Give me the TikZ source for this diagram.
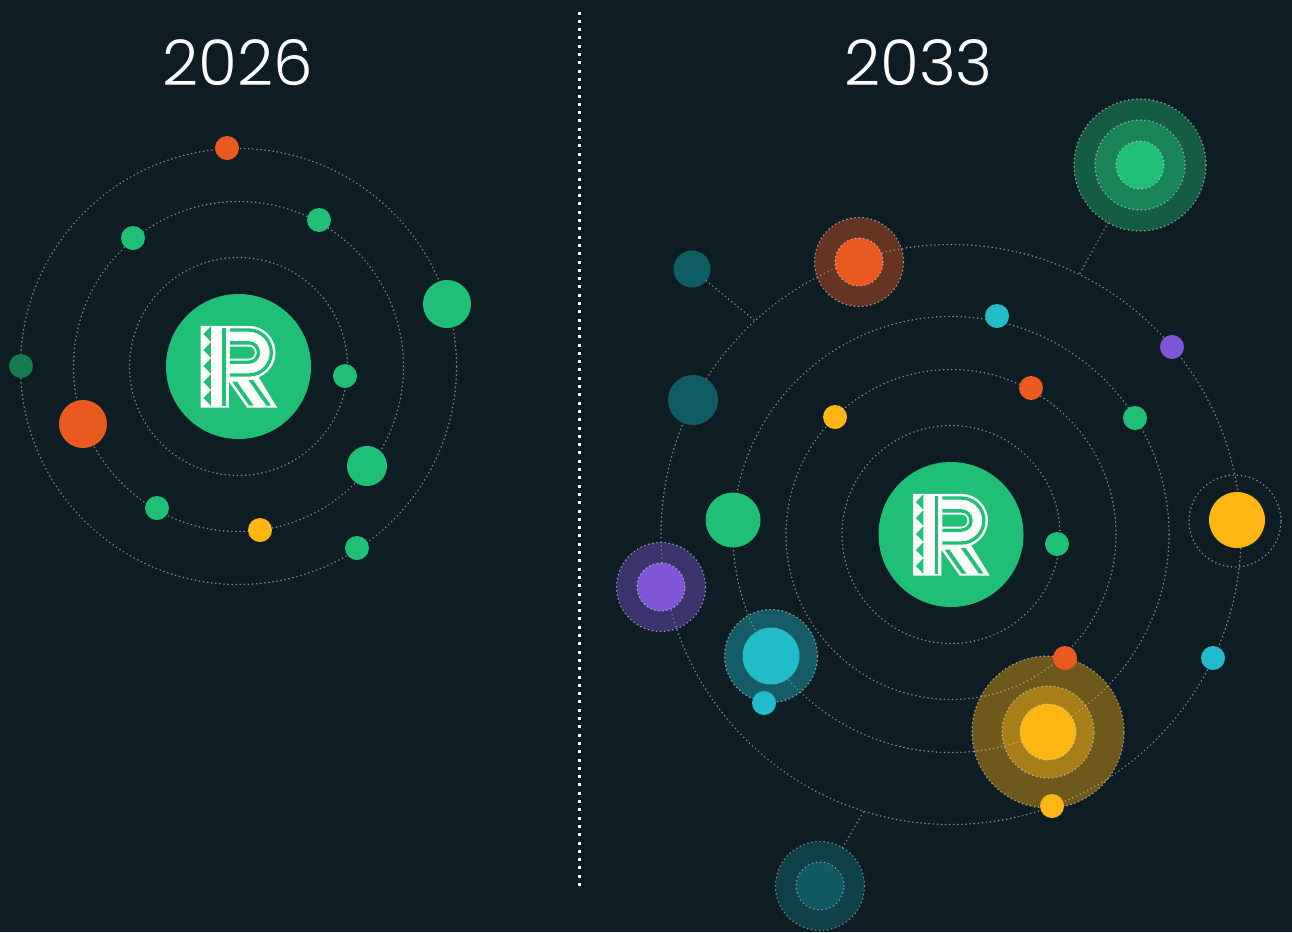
\documentclass[tikz,border=0pt]{standalone}
\usepackage{fontspec}
\newfontfamily\titlefont{Poppins Light}
\definecolor{bgc}{HTML}{0E1C24}
\definecolor{gr}{HTML}{1FBF76}
\definecolor{dgr}{HTML}{157A50}
\definecolor{og}{HTML}{EA5A20}
\definecolor{yl}{HTML}{FFB612}
\definecolor{cy}{HTML}{22BCCB}
\definecolor{pu}{HTML}{7F56D9}
\definecolor{te}{HTML}{0F5C62}
\definecolor{tb}{HTML}{14A0A8}
\definecolor{dots}{HTML}{7F8C8E}
\definecolor{hdots}{HTML}{C4CCC8}
\tikzset{
  x=1pt,y=-1pt,
  dotline/.style={line width=1.5pt,line cap=round,dash pattern=on 0.3pt off 3.8pt},
  orbit/.style={circle,inner sep=0,outer sep=0,minimum size=#1*2pt,draw=dots,dotline},
  disc/.style n args={2}{circle,inner sep=0,outer sep=0,minimum size=#2*2pt,fill=#1},
  halo/.style n args={2}{circle,inner sep=0,outer sep=0,minimum size=#2*2pt,fill=#1,fill opacity=.4,draw=hdots,draw opacity=.7,dotline},
  core/.style n args={2}{circle,inner sep=0,outer sep=0,minimum size=#2*2pt,fill=#1,draw=hdots,draw opacity=.7,dotline},
  tealhalo/.style={circle,inner sep=0,outer sep=0,minimum size=#1*2pt,fill=tb,fill opacity=.28,draw=hdots,draw opacity=.55,dotline},
  ring/.style={circle,inner sep=0,outer sep=0,minimum size=#1*2pt,draw=hdots,draw opacity=.65,dotline},
  link/.style={draw=dots,dotline},
  title/.style={text=white,inner sep=0,font=\titlefont\fontsize{63pt}{63pt}\selectfont},
  rlogo/.pic={
    \begin{scope}[x=.3333pt,y=.3333pt]
      \fill[white] (-114,122) -- (31,122) arc[radius=80,start angle=90,end angle=-90] -- (61,-33) -- (116,-123.5) -- (26,-123.5) -- (-29,-45.5) -- (-29,-123.5) -- (-114,-123.5) -- cycle;
      \foreach \v in {97.5,49.5,1.5,-46.5,-94.5}
        \fill[gr] (-83,\v+23) -- (-105,\v) -- (-83,\v-23) -- cycle;
      \fill[gr] (-49,116) rectangle (-39,-117);
      \draw[gr,line width=10*.3333pt] (-26,109.5) -- (31,109.5) arc[radius=67.5,start angle=90,end angle=-90] -- (-26,-25.5);
      \draw[gr,line width=10*.3333pt] (-26,71) -- (31,71) arc[radius=29,start angle=90,end angle=-90] -- (-26,13);
      \fill[gr] (-26,60) -- (31,60) arc[radius=18,start angle=90,end angle=-90] -- (-26,24) -- cycle;
      \fill[gr] (-19,-45) -- (-5,-45) -- (45.5,-117) -- (31.5,-117) -- cycle;
      \fill[gr] (30,-41) -- (44,-41) -- (97.5,-117) -- (83.5,-117) -- cycle;
    \end{scope}
  }
}
\begin{document}
\begin{tikzpicture}
\useasboundingbox (0,0) rectangle (1292,932);
\fill[bgc] (0,0) rectangle (1292,932);
% divider
\coordinate (divtop) at (579,11.5);
\coordinate (divbot) at (579,886);
\draw[white,line width=3pt,dash pattern=on 3pt off 5.3pt] (divtop) -- (divbot);
\node[title] (t1) at (237.5,63) {2026};
\node[title] (t2) at (918.5,63) {2033};
% left orbits
\node[orbit=109] (l1) at (238.5,366.5) {};
\node[orbit=165] (l2) at (238.5,366.5) {};
\node[orbit=218] (l3) at (238.5,366.5) {};
% right orbits
\node[orbit=109] (r1) at (951,534.5) {};
\node[orbit=165] (r2) at (951,534.5) {};
\node[orbit=218] (r3) at (951,534.5) {};
\node[orbit=290] (r4) at (951,534.5) {};
% connectors
\coordinate (j1) at (1079,275);
\coordinate (j2) at (754,320);
\coordinate (j3) at (864,811);
\node[disc={te}{18.5}] (tea1) at (692,269) {};
\node[halo={gr}{66}] (gh1) at (1140,165) {};
\node[halo={gr}{45}] (gh2) at (1140,165) {};
\node[core={gr}{24}] (gh3) at (1140,165) {};
\node[tealhalo=44.5] (th1) at (820,886) {};
\node[tealhalo=24] (th2) at (820,886) {};
\draw[link] (gh1) -- (j1);
\draw[link] (tea1) -- (j2);
\draw[link] (th1) -- (j3);
% left discs
\node[disc={gr}{72.5}] (lc) at (238.5,366.5) {};
\pic at (lc) {rlogo};
\node[disc={og}{12}] (a1) at (227,148) {};
\node[disc={gr}{12}] (a2) at (319,220) {};
\node[disc={gr}{12}] (a3) at (133,238) {};
\node[disc={gr}{24}] (a4) at (447,304) {};
\node[disc={dgr}{12}] (a5) at (21,366) {};
\node[disc={gr}{12}] (a6) at (345,376) {};
\node[disc={og}{24}] (a7) at (83,424) {};
\node[disc={gr}{20}] (a8) at (367,466) {};
\node[disc={gr}{12}] (a9) at (157,508) {};
\node[disc={yl}{12}] (a10) at (260,530) {};
\node[disc={gr}{12}] (a11) at (357,548) {};
% right discs
\node[disc={gr}{72.5}] (rc) at (951,534.5) {};
\pic at (rc) {rlogo};
\node[halo={og}{44.5}] (oh1) at (859,262) {};
\node[core={og}{24}] (oh2) at (859,262) {};
\node[disc={te}{25}] (b1) at (693,400) {};
\node[disc={cy}{12}] (b2) at (997,316) {};
\node[disc={pu}{12}] (b3) at (1172,347) {};
\node[disc={og}{12}] (b4) at (1031,388) {};
\node[disc={yl}{12}] (b5) at (835,417) {};
\node[disc={gr}{12}] (b6) at (1135,418) {};
\node[ring=46] (yr) at (1235,521) {};
\node[disc={yl}{28}] (b7) at (1237,520) {};
\node[disc={gr}{12}] (b8) at (1057,544) {};
\node[disc={gr}{27.5}] (b9) at (733,520) {};
\node[halo={pu}{44.5}] (ph1) at (661,587) {};
\node[core={pu}{24}] (ph2) at (661,587) {};
\node[halo={cy}{46.5}] (ch1) at (771,656) {};
\node[disc={cy}{28.5}] (ch2) at (771,656) {};
\node[disc={cy}{12}] (b10) at (764,703) {};
\node[disc={cy}{12}] (b11) at (1213,658) {};
\node[halo={yl}{76}] (yh1) at (1048,732) {};
\node[halo={yl}{46}] (yh2) at (1048,732) {};
\node[core={yl}{28}] (yh3) at (1048,732) {};
\node[disc={og}{12}] (b12) at (1065,658) {};
\node[disc={yl}{12}] (b13) at (1052,806) {};
\end{tikzpicture}
\end{document}
